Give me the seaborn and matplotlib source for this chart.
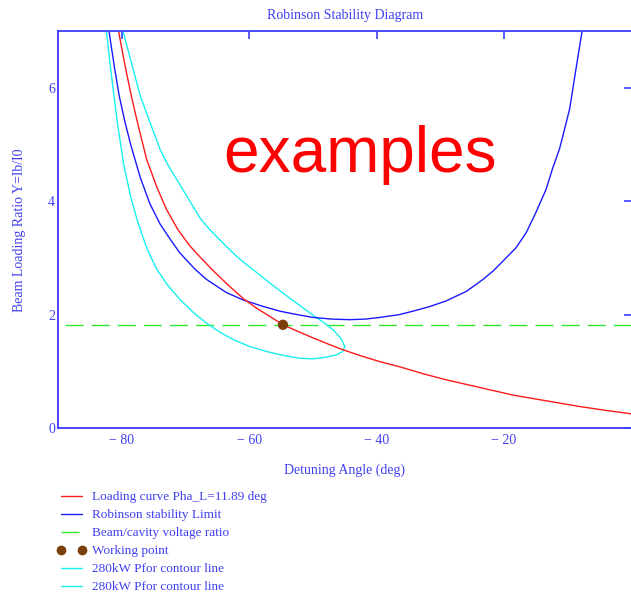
import numpy as np
import pandas as pd
import matplotlib
matplotlib.use("Agg")
import matplotlib.pyplot as plt
from matplotlib.lines import Line2D
import seaborn as sns

# ---------------- data ----------------
# Loading curve (red)
load_angle = [-80.5, -79.5, -78.5, -77.6, -76.1, -74.5, -73.0, -71.2, -69.3, -67.5,
              -65.7, -63.3, -60.9, -58.8, -56.8, -54.7, -52.3, -50.0, -47.6, -45.3,
              -42.4, -39.5, -36.4, -32.8, -29.1, -24.0, -18.6, -13.4, -8.2, -4.0, 0.0]
load_ratio = [7.0, 6.4, 5.86, 5.42, 4.74, 4.25, 3.86, 3.50, 3.21, 2.99,
              2.78, 2.52, 2.28, 2.11, 1.97, 1.82, 1.70, 1.59, 1.48, 1.38,
              1.27, 1.17, 1.08, 0.96, 0.85, 0.72, 0.58, 0.48, 0.38, 0.31, 0.25]

# Robinson stability limit (blue)
rob_angle = [-82.0, -81.2, -80.4, -79.5, -78.6, -77.1, -75.6, -74.0, -72.4, -70.9,
             -68.5, -66.7, -63.6, -61.0, -58.0, -55.2, -52.5, -50.0, -47.0, -44.2,
             -41.8, -39.5, -36.4, -34.3, -31.7, -29.1, -25.9, -23.3, -21.7, -20.2,
             -18.1, -16.5, -15.0, -13.4, -12.4, -11.3, -10.5, -9.7, -8.7, -7.75]
rob_ratio = [7.0, 6.4, 5.86, 5.40, 5.00, 4.42, 3.96, 3.60, 3.33, 3.09,
             2.80, 2.62, 2.39, 2.26, 2.15, 2.06, 2.00, 1.95, 1.92, 1.91,
             1.92, 1.95, 2.00, 2.06, 2.14, 2.24, 2.41, 2.62, 2.77, 2.94,
             3.18, 3.45, 3.80, 4.21, 4.57, 4.92, 5.27, 5.63, 6.34, 7.0]

# Beam/cavity voltage ratio (green dashed)
ratio_angle = [-88.9, 0.0]
ratio_value = [1.82, 1.82]

# Working point
wp_angle = [-54.7]
wp_ratio = [1.82]

# 280kW Pfor contour, lower branch (cyan)
c1_angle = [-82.4, -81.6, -80.7, -79.7, -78.6, -77.4, -76.0, -74.5, -72.8, -70.9,
            -68.8, -66.7, -64.6, -62.5, -60.0, -57.3, -54.7, -52.1, -50.0, -47.9,
            -46.3, -45.3, -45.0]
c1_ratio = [7.0, 6.2, 5.4, 4.65, 4.08, 3.60, 3.15, 2.80, 2.52, 2.27,
            2.04, 1.85, 1.69, 1.56, 1.44, 1.35, 1.28, 1.23, 1.22, 1.25,
            1.29, 1.35, 1.44]

# 280kW Pfor contour, upper branch (cyan)
c2_angle = [-45.0, -45.6, -46.8, -48.3, -50.0, -52.3, -54.7, -56.8, -58.8, -60.4,
            -62.0, -64.1, -66.2, -67.7, -70.6, -72.7, -74.0, -75.6, -77.1, -78.5,
            -79.8]
c2_ratio = [1.44, 1.58, 1.73, 1.86, 1.99, 2.18, 2.38, 2.56, 2.74, 2.88,
            3.03, 3.26, 3.50, 3.70, 4.24, 4.63, 4.92, 5.40, 5.86, 6.45,
            7.0]

x_ticks = [-80, -60, -40, -20]
x_tick_labels = ["\u2212 80", "\u2212 60", "\u2212 40", "\u2212 20"]
y_ticks = [0, 2, 4, 6]
y_tick_labels = ["0", "2", "4", "6"]

legend_labels = ["Loading curve Pha_L=11.89 deg", "Robinson stability Limit",
                 "Beam/cavity voltage ratio", "Working point",
                 "280kW Pfor contour line", "280kW Pfor contour line"]

# ---------------- styling ----------------
sns.set_style("white")
plt.rcParams["font.family"] = ["Liberation Serif", "DejaVu Serif"]

AX_COL = "#3c3cff"
TXT_COL = "#4040f0"
RED = "#ff1a1a"
BLUE = "#1a1aff"
GREEN = "#33e633"
CYAN = "#19f0f0"
BROWN = "#7a3f0a"

W, H = 631, 593
fig = plt.figure(figsize=(W / 100, H / 100), dpi=100)
ax = fig.add_axes([58 / W, (H - 428) / H, 573.5 / W, (428 - 31) / H])

lw = 1.0
sns.lineplot(x=ratio_angle, y=ratio_value, sort=False, estimator=None, ax=ax,
             color=GREEN, lw=lw, linestyle=(0, (13, 5.8)))
sns.lineplot(x=c1_angle, y=c1_ratio, sort=False, estimator=None, ax=ax, color=CYAN, lw=lw)
sns.lineplot(x=c2_angle, y=c2_ratio, sort=False, estimator=None, ax=ax, color=CYAN, lw=lw)
sns.lineplot(x=rob_angle, y=rob_ratio, sort=False, estimator=None, ax=ax, color=BLUE, lw=lw)
sns.lineplot(x=load_angle, y=load_ratio, sort=False, estimator=None, ax=ax, color=RED, lw=lw)
sns.scatterplot(x=wp_angle, y=wp_ratio, ax=ax, color=BROWN, s=55, edgecolor="none", zorder=5)

ax.set_xlim(-90, 0)
ax.set_ylim(0, 7)
ax.set_xticks(x_ticks)
ax.set_xticklabels(x_tick_labels)
ax.set_yticks(y_ticks)
ax.set_yticklabels(y_tick_labels)
ax.tick_params(direction="in", top=True, right=True, length=6, width=1.2,
               color=AX_COL, labelcolor=TXT_COL, labelsize=10)
ax.tick_params(axis="x", pad=4)
ax.tick_params(axis="y", pad=2)
for sp in ax.spines.values():
    sp.set_color(AX_COL)
    sp.set_linewidth(1.3)
ax.grid(False)
ax.set_xlabel("")
ax.set_ylabel("")

fig.text(345 / W, 1 - 15 / H, "Robinson Stability Diagram", ha="center", va="center",
         color=TXT_COL, fontsize=10)
fig.text(345 / W, 1 - 470 / H, "Detuning Angle (deg)", ha="center", va="center",
         color=TXT_COL, fontsize=10)
fig.text(20 / W, 1 - 230 / H, "Beam Loading Ratio Y=Ib/I0", ha="center", va="center",
         rotation=90, color=TXT_COL, fontsize=10)

handles = [
    Line2D([], [], color=RED, lw=lw),
    Line2D([], [], color=BLUE, lw=lw),
    Line2D([], [], color=GREEN, lw=lw, linestyle=(0, (13, 5.8))),
    Line2D([], [], color=BROWN, marker="o", ls="none", markersize=7, markeredgewidth=0),
    Line2D([], [], color=CYAN, lw=lw),
    Line2D([], [], color=CYAN, lw=lw),
]
ax.legend(handles, legend_labels, loc="upper left",
          bbox_to_anchor=(57 / W, 1 - 491 / H), bbox_transform=fig.transFigure,
          frameon=False, fontsize=9.5, labelcolor=TXT_COL, handlelength=2.2,
          handletextpad=0.45, labelspacing=0.44, numpoints=2, borderpad=0,
          borderaxespad=0)

fig.text(360 / W, 1 - 172 / H, "examples", ha="center", va="baseline",
         color="red", fontsize=46, family=["Liberation Sans", "DejaVu Sans"])

fig.savefig("out.png", dpi=100)
